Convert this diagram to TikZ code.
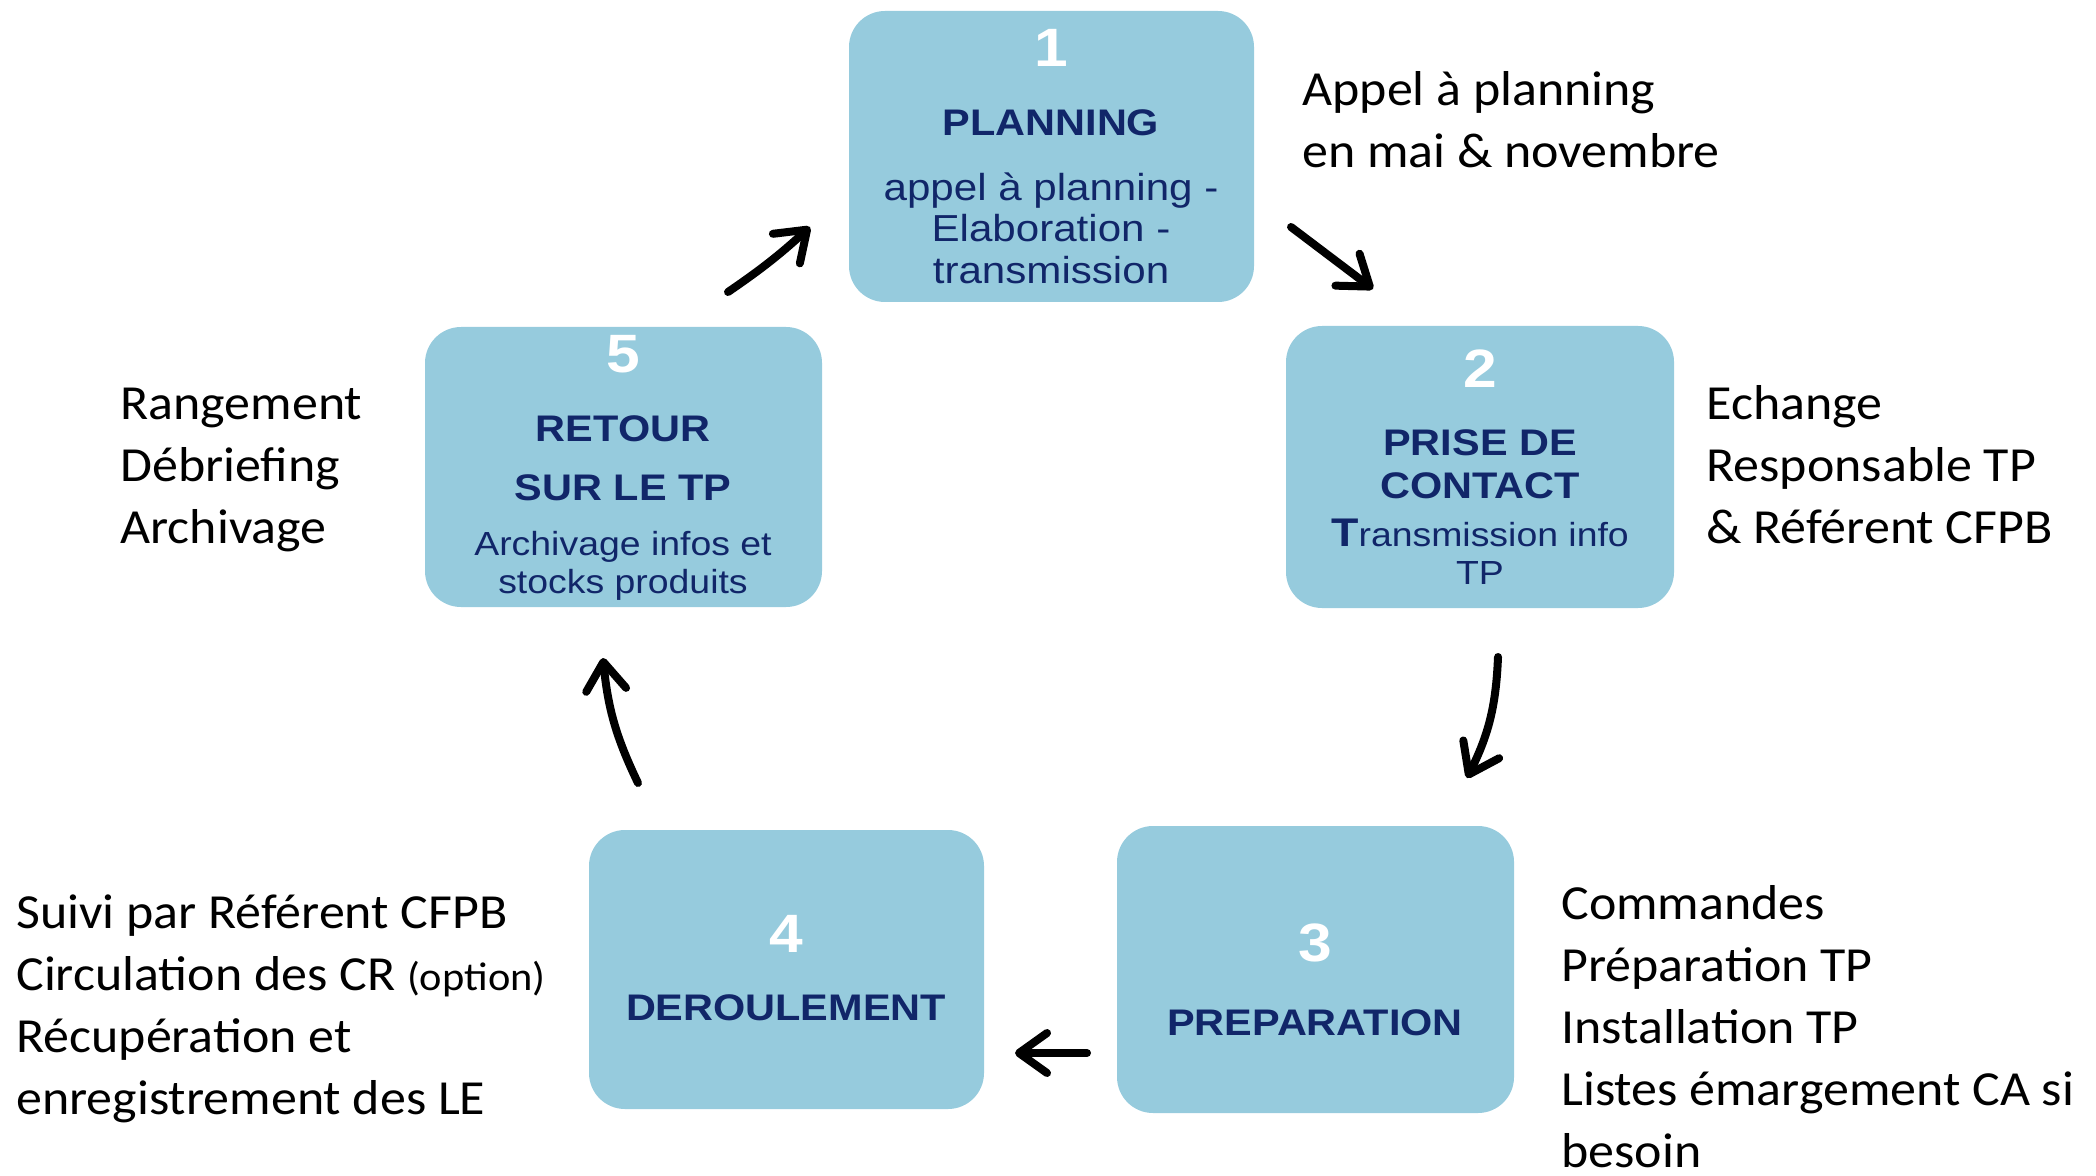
\documentclass[tikz,border=0pt]{standalone}
\usepackage{fontspec}
\setmainfont{Carlito}[FakeStretch=1.06]
\newfontfamily\boxfont{Liberation Sans}[FakeStretch=1.12]
\usetikzlibrary{arrows.meta}
\definecolor{boxblue}{RGB}{150,203,221}
\definecolor{navy}{RGB}{17,38,105}

\begin{document}
\begin{tikzpicture}[x=0.5pt,y=-0.5pt,
	stepbox/.style={fill=boxblue,rounded corners=18pt,inner sep=0pt},
	num/.style={text=white,font=\boxfont\bfseries\fontsize{27}{27}\selectfont},
	head/.style={text=navy,align=center,font=\boxfont\bfseries\fontsize{18.5}{21.5}\selectfont},
	sub/.style={text=navy,align=center,font=\boxfont\fontsize{16.7}{19}\selectfont},
	note/.style={anchor=base west,align=left,inner sep=0pt,font=\fontsize{24.5}{31}\selectfont},
	arr/.style={line width=4pt,line cap=round,-{Straight Barb[round,length=14pt,width=20pt]}}]
	\useasboundingbox (0,0) rectangle (2096,1176);
	% boxes
	\node[stepbox,minimum width=202.5pt,minimum height=145.5pt] (b1) at (1051.5,156.5) {};
	\node[stepbox,minimum width=194pt,minimum height=141pt] (b2) at (1480,467) {};
	\node[stepbox,minimum width=198.5pt,minimum height=143.5pt] (b3) at (1315.5,969.5) {};
	\node[stepbox,minimum width=197.5pt,minimum height=139.5pt] (b4) at (786.5,969.5) {};
	\node[stepbox,minimum width=198.5pt,minimum height=140pt] (b5) at (623.5,467) {};
	% box texts
	\node[num] (n1) at (1051,48) {1};
	\node[head] (h1) at (1051,123) {PLANNING};
	\node[sub,font=\boxfont\fontsize{18.8}{20.7}\selectfont] (s1) at (1051,228) {appel à planning -\\Elaboration -\\transmission};
	\node[num] (n2) at (1480,369) {2};
	\node[head] (h2) at (1480,464) {PRISE DE\\CONTACT};
	\node[sub] (s2) at (1480,552) {{\bfseries\fontsize{20}{19}\selectfont T}ransmission info\\TP};
	\node[num] (n3) at (1315,943) {3};
	\node[head] (h3) at (1315,1023) {PREPARATION};
	\node[num] (n4) at (786,934) {4};
	\node[head] (h4) at (786,1008) {DEROULEMENT};
	\node[num] (n5) at (623,354) {5};
	\node[head] (h5) at (623,458) {RETOUR\\[8pt]SUR LE TP};
	\node[sub] (s5) at (623,566) {Archivage infos et\\stocks produits};
	% side notes (anchored on their last line)
	\node[note] (nPlan) at (1302,168) {Appel à planning\\en mai \& novembre};
	\node[note] (nContact) at (1706,543) {Echange\\Responsable TP\\\& Référent CFPB};
	\node[note] (nRetour) at (120,543) {Rangement\\Débriefing\\Archivage};
	\node[note] (nDeroul) at (16,1114) {Suivi par Référent CFPB\\Circulation des CR {\fontsize{20}{31}\selectfont (option)}\\Récupération et\\enregistrement des LE};
	\node[note] (nPrep) at (1561,1167) {Commandes\\Préparation TP\\Installation TP\\Listes émargement CA si\\besoin};
	% arrows
	\coordinate (a12s) at (1291,227);
	\coordinate (a12e) at (1373,289);
	\coordinate (a23s) at (1498,657);
	\coordinate (a23e) at (1467,778);
	\coordinate (a34s) at (1087,1053);
	\coordinate (a34e) at (1015,1053);
	\coordinate (a45s) at (638,783);
	\coordinate (a45e) at (603,658);
	\coordinate (a51s) at (728,292);
	\coordinate (a51e) at (810,227);
	\draw[arr] (a12s) -- (a12e);
	\draw[arr] (a23s) to[bend left=12] (a23e);
	\draw[arr] (a34s) -- (a34e);
	\draw[arr] (a45s) to[bend left=10] (a45e);
	\draw[arr] (a51s) to[bend right=4] (a51e);
\end{tikzpicture}
\end{document}
